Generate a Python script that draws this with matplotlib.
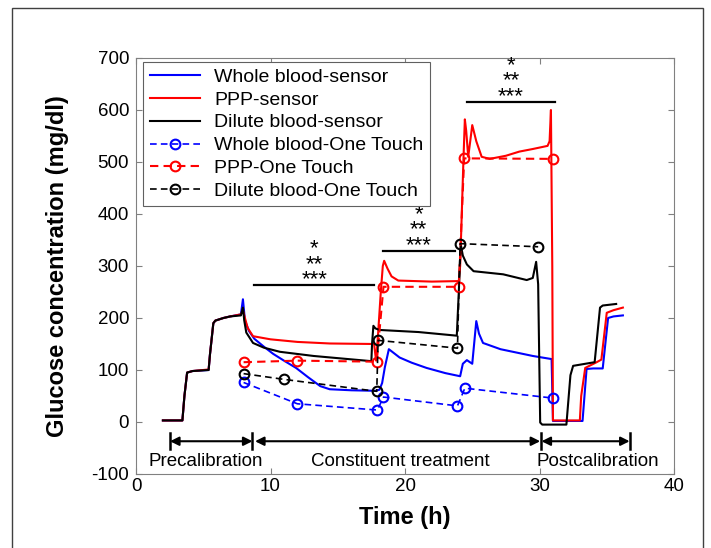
import matplotlib
matplotlib.use('Agg')
import matplotlib.pyplot as plt
from matplotlib.patches import Rectangle

plt.rcParams['font.family'] = ['Liberation Sans', 'DejaVu Sans']
plt.rcParams['axes.unicode_minus'] = False

# sensor traces: time (h) and glucose (mg/dl)
wb_t = [2.0, 3.45, 3.6, 3.8, 4.2, 5.4, 5.5, 5.75, 5.9, 6.5, 7.0, 7.8, 7.95, 8.1, 8.4, 8.8, 9.5,
        10.2, 11.0, 11.9, 12.8, 13.7, 14.4, 16.0, 17.8, 18.1, 18.3, 18.5, 18.8, 19.2, 19.6, 20.5,
        21.6, 23.0, 24.1, 24.3, 24.6, 25.0, 25.3, 25.5, 25.8, 27.1, 29.5, 30.9, 31.0, 33.2, 33.5,
        34.0, 34.7, 35.1, 35.5, 36.2]
wb_v = [3, 3, 50, 95, 98, 100, 130, 190, 195, 200, 203, 207, 236, 195, 175, 160, 145,
        131, 118, 104, 86, 69, 63, 61, 60, 62, 75, 105, 140, 132, 124, 114,
        104, 94, 88, 112, 119, 112, 194, 170, 152, 140, 127, 121, 2, 2, 102,
        103, 103, 200, 203, 205]

ppp_t = [2.0, 3.45, 3.6, 3.8, 4.2, 5.4, 5.5, 5.75, 5.9, 6.5, 7.0, 7.8, 7.95, 8.1, 8.3, 8.7, 10.0,
         12.0, 14.4, 17.7, 17.85, 18.0, 18.2, 18.35, 18.45, 18.7, 19.0, 19.5, 22.0, 24.0, 24.1,
         24.35, 24.45, 24.55, 24.7, 24.85, 25.0, 25.3, 25.7, 26.3, 27.5, 28.5, 29.5, 30.6, 30.75,
         30.85, 30.95, 31.0, 33.0, 33.1, 33.4, 34.25, 34.6, 35.0, 35.5, 36.2]
ppp_v = [3, 3, 50, 95, 98, 101, 130, 190, 195, 200, 203, 207, 215, 200, 181, 165, 159,
         154, 151, 150, 118, 170, 250, 300, 310, 295, 280, 272, 270, 271, 300,
         508, 582, 560, 510, 540, 571, 540, 510, 506, 512, 520, 525, 531, 540,
         600, 300, 3, 3, 50, 104, 115, 120, 210, 215, 220]

dil_t = [2.0, 3.45, 3.6, 3.8, 4.2, 5.4, 5.5, 5.75, 5.9, 6.5, 7.0, 7.8, 7.95, 8.05, 8.2, 8.7, 9.5,
         10.7, 13.2, 17.5, 17.55, 17.65, 17.8, 18.1, 21.0, 23.85, 24.0, 24.14, 24.3, 24.6, 25.1,
         27.3, 29.05, 29.5, 29.75, 29.9, 30.05, 30.2, 32.0, 32.3, 32.5, 34.1, 34.5, 34.7, 35.7]
dil_v = [3, 3, 50, 95, 98, 100, 130, 190, 195, 200, 203, 205, 220, 195, 172, 152, 143,
         135, 127, 117, 150, 185, 180, 177, 173, 166, 250, 342, 320, 303, 290,
         284, 273, 277, 308, 265, -1, -5, -5, 90, 108, 115, 220, 224, 227]

# One Touch meter readings
wb_ot_t = [8.0, 12.0, 17.95, 18.4, 23.9, 24.45, 31.0]
wb_ot_v = [76, 35, 23, 48, 31, 65, 46]
ppp_ot_t = [8.0, 12.0, 17.9, 18.4, 24.0, 24.4, 31.0]
ppp_ot_v = [115, 118, 116, 260, 260, 507, 506]
dil_ot_t = [8.0, 11.0, 17.9, 18.0, 23.9, 24.1, 29.9]
dil_ot_v = [93, 82, 59, 157, 142, 343, 337]

# significance bars: start, end, level
sig_x0 = [8.8, 18.35, 24.6]
sig_x1 = [17.7, 23.7, 31.15]
sig_y = [263, 329, 616]

# experiment phases
phase_names = ['Precalibration', 'Constituent treatment', 'Postcalibration']
phase_start = [2.53, 8.85, 30.15]
phase_end = [8.66, 30.05, 36.7]
phase_bars = [2.53, 8.66, 30.1, 36.7]
phase_text_x = [5.2, 19.65, 34.3]

fig = plt.figure(figsize=(7.11, 5.48), dpi=100)
ax = fig.add_axes([136 / 711, 1 - 474 / 548, 538 / 711, 416 / 548])

ax.plot(wb_t, wb_v, color='#0000ff', lw=1.5, label='Whole blood-sensor')
ax.plot(ppp_t, ppp_v, color='#ff0000', lw=1.5, label='PPP-sensor')
ax.plot(dil_t, dil_v, color='black', lw=1.5, label='Dilute blood-sensor')
ax.plot(wb_ot_t, wb_ot_v, '--o', color='#0000ff', lw=1.2, ms=7, mfc='none', mew=1.5,
        dashes=(4, 2.5), label='Whole blood-One Touch')
ax.plot(ppp_ot_t, ppp_ot_v, '--o', color='#ff0000', lw=1.5, ms=7, mfc='none', mew=1.5,
        dashes=(4, 2.5), label='PPP-One Touch')
ax.plot(dil_ot_t, dil_ot_v, '--o', color='black', lw=1.2, ms=7, mfc='none', mew=1.5,
        dashes=(4, 2.5), label='Dilute blood-One Touch')

# significance marks
for x0, x1, y in zip(sig_x0, sig_x1, sig_y):
    ax.plot([x0, x1], [y, y], color='black', lw=1.6)
    ax.text((x0 + x1) / 2, y - 10, '*\n**\n***', ha='center', va='bottom',
            multialignment='center', linespacing=0.66, fontsize=16)

# phase arrows
for x0, x1 in zip(phase_start, phase_end):
    ax.annotate('', xy=(x1, -37), xytext=(x0, -37),
                arrowprops=dict(arrowstyle='<|-|>', color='black', lw=1.5,
                                mutation_scale=13, shrinkA=0, shrinkB=0))
for xb in phase_bars:
    ax.plot([xb, xb], [-21, -51], color='black', lw=1.8)
for name, xt in zip(phase_names, phase_text_x):
    ax.text(xt, -76, name, ha='center', va='center', fontsize=13.5)

ax.set_xlim(0, 40)
ax.set_ylim(-100, 700)
ax.set_xticks([0, 10, 20, 30, 40])
ax.set_yticks(range(-100, 701, 100))
ax.tick_params(direction='in', top=True, right=True, length=4, width=0.8,
               color='#808080', labelsize=13.5)
ax.tick_params(axis='x', pad=3)
ax.tick_params(axis='y', pad=5)
for sp in ax.spines.values():
    sp.set_color('#808080')
    sp.set_linewidth(0.8)

ax.set_xlabel('Time (h)', fontsize=17, fontweight='bold')
ax.set_ylabel('Glucose concentration (mg/dl)', fontsize=17, fontweight='bold')
ax.xaxis.set_label_coords(0.5, -0.077)
ax.yaxis.set_label_coords(-0.125, 0.5)

leg = ax.legend(loc='upper left', bbox_to_anchor=(0.0136, 0.991), borderaxespad=0,
                fontsize=14, handlelength=2.6, handletextpad=0.72, borderpad=0.33,
                labelspacing=0.27, fancybox=False, framealpha=1)
leg.get_frame().set_edgecolor('#606060')
leg.get_frame().set_linewidth(0.8)

fig.patches.append(Rectangle((12 / 711, -0.1), 691 / 711, 1.1 - 8 / 548,
                             transform=fig.transFigure, fill=False,
                             edgecolor='#404040', lw=1))

fig.savefig('out.png', dpi=100)
